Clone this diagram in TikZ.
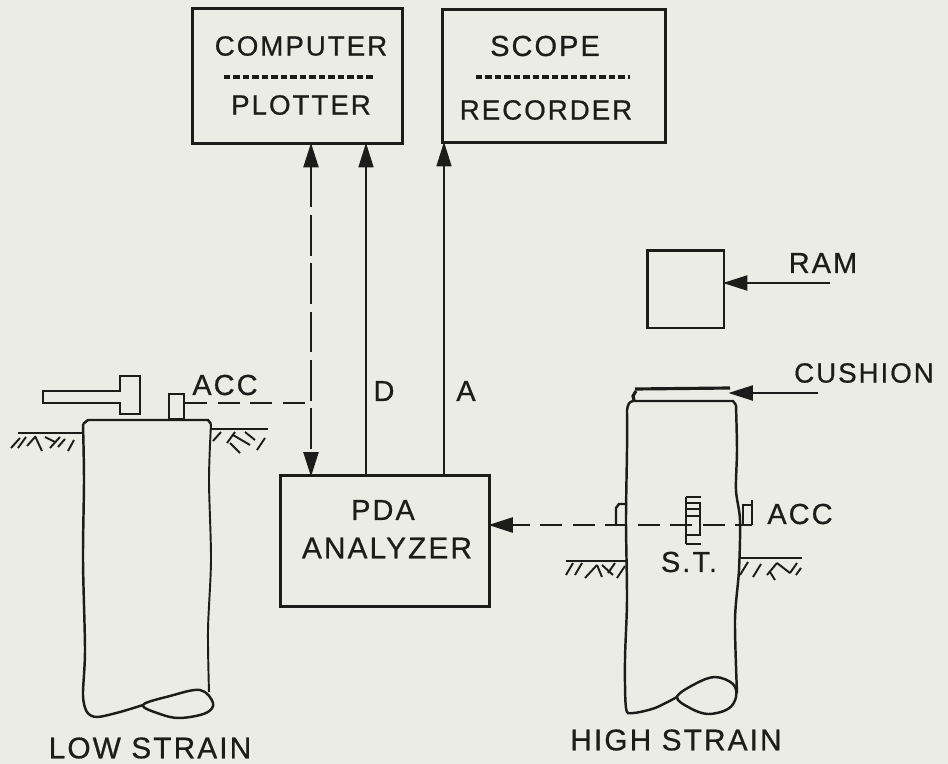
\documentclass[tikz,border=0pt]{standalone}
\usepackage{fontspec}
\setmainfont[LetterSpace=7,FakeBold=0.6]{Liberation Sans}
\usetikzlibrary{calc, positioning}
\usetikzlibrary{arrows.meta}

\definecolor{paper}{HTML}{ECECE6}
\definecolor{ink}{HTML}{1C1C1A}

\tikzset{
  line/.style={ink, line width=1.4pt},
  thinline/.style={ink, line width=1.1pt},
  boxnode/.style={draw=ink, line width=1.7pt, inner sep=0pt},
  label/.style={ink, font=\fontsize{16.5}{17}\selectfont, inner sep=0pt},
  smalllabel/.style={label, font=\fontsize{15.8}{17}\selectfont},
  biglabel/.style={label, font=\fontsize{17}{18}\selectfont},
  dashline/.style={line, line width=1.6pt, dash pattern=on 12.5pt off 6pt},
  sep/.style={ink, line width=2pt, dash pattern=on 3.6pt off 1.8pt},
  head/.style={-{Triangle[length=14pt, width=8.5pt]}, shorten >=-1.5pt},
  twohead/.style={{Triangle[length=14pt, width=8.5pt]}-{Triangle[length=14pt, width=8.5pt]}, shorten >=-1.5pt, shorten <=-1.5pt},
}

\begin{document}
\begin{tikzpicture}[x=0.02cm, y=-0.02cm]
\useasboundingbox[fill=paper] (0,0) rectangle (948,764);

\def\xDash{311}
\def\xD{366}
\def\xA{444}

% boxes
\node[boxnode, minimum width=4.22cm, minimum height=2.72cm] (computer) at (297.5,76) {};
\node[boxnode, minimum width=4.48cm, minimum height=2.68cm] (scope) at (554,76) {};
\node[boxnode, minimum width=4.18cm, minimum height=2.62cm] (pda) at (385,541) {};
\node[boxnode, minimum width=1.54cm, minimum height=1.56cm] (ram) at (685.5,289) {};

% box texts
\node[smalllabel] (computerText) at (301,46) {COMPUTER};
\node[smalllabel] (plotterText) at (301,105) {PLOTTER};
\node[label] (scopeText) at (545,46) {SCOPE};
\node[smalllabel] (recorderText) at (546,110) {RECORDER};
\node[label] (pdaText) at (383,510) {PDA};
\node[biglabel] (analyzerText) at (387,548) {ANALYZER};
\draw[sep] (224,77) -- (375,77);
\draw[sep] (476,77) -- (630,77);

% connectors between boxes
\coordinate (dashX) at (\xDash,0);
\coordinate (dX) at (\xD,0);
\coordinate (aX) at (\xA,0);
\draw[line, twohead, dash pattern=on 23pt off 4.5pt] (computer.south -| dashX) -- (pda.north -| dashX);
\draw[thinline, head] (pda.north -| dX) -- (computer.south -| dX);
\draw[thinline, head] (pda.north -| aX) -- (scope.south -| aX);
\node[label] (dText) at (384,391) {D};
\node[label] (aText) at (466,391) {A};

% low strain pile
\draw[line] plot[smooth, tension=0.5] coordinates {(143,705) (120,712) (97,717) (87,712) (83,695) (85,650) (83,560) (84,480) (83,424)};
\draw[line] (83,424) -- (88,420) -- (208,420) -- (211,424);
\draw[thinline] plot[smooth, tension=0.5] coordinates {(211,424) (209,480) (211,560) (208,630) (209,692)};
\draw[line] plot[smooth cycle, tension=0.6] coordinates {(143,705) (170,696) (200,690) (213,703) (206,713) (180,718) (160,714)};
\draw[line] (18,433) -- (83,433);
\draw[line] (211,429) -- (268,429);
\foreach \x/\y/\dx/\dy in {11/448/9/-10, 18/448/8/-11, 27/446/8/-9, 35/436/7/15, 45/437/10/5, 50/448/10/-11, 58/447/7/-8, 68/451/6/-11,
    213/441/8/-9, 227/443/8/-11, 230/443/10/10, 233/435/17/10, 245/432/10/8, 257/450/8/-12}
  \draw[thinline] (\x,\y) -- ++(\dx,\dy);

% hammer and sensor
\draw[line] (120,391) -- (43,391) -- (43,403) -- (120,403) -- (120,414) -- (140,414) -- (140,376) -- (120,376) -- cycle;
\node[draw=ink, line width=1.4pt, minimum width=0.3cm, minimum height=0.5cm, inner sep=0pt] (accLow) at (176.5,406.5) {};
\node[label] (accLowText) at (225,385) {ACC};
\coordinate (accLowEnd) at (accLow.east |- 0,403);
\draw[dashline] (accLowEnd) -- (accLowEnd -| dashX);

% high strain pile
\draw[line] (627,410) .. controls (628,404) and (629,402) .. (633,401) -- (733,401) -- (736,405);
\draw[line, line width=1.8pt] (636,391) -- (633,396) -- (634,400);
\draw[line, line width=1.8pt] (635,389) -- (730,388);
\draw[line] plot[smooth, tension=0.5] coordinates {(677,697) (655,708) (633,713) (626,708) (625,660) (627,600) (626,520) (627,450) (627,410)};
\draw[line] plot[smooth, tension=0.5] coordinates {(736,405) (737,450) (736,490) (740,520) (739,570) (735,620) (737,693)};
\draw[line] plot[smooth cycle, tension=0.6] coordinates {(677,697) (695,684) (715,677) (733,684) (736,697) (728,709) (708,714) (690,708)};
\draw[line] (566,561) -- (627,561);
\draw[line] (740,558) -- (802,558);
\foreach \x/\y/\dx/\dy in {566/575/7/-12, 575/575/7/-12, 585/578/12/-13, 597/565/5/12, 602/565/11/10, 608/573/7/-10, 617/578/8/-12,
    740/575/8/-13, 753/577/8/-13, 767/575/10/-12, 770/572/5/8, 777/563/13/10, 790/573/7/-10, 796/575/5/-7}
  \draw[thinline] (\x,\y) -- ++(\dx,\dy);

% sensors on the high strain pile
\draw[line] (616,525) -- (616,508) -- (619,504) -- (627,504);
\draw[line] (742,505) -- (752,505);
\draw[line] (752,500) -- (752,525);
\draw[line] (743,505) -- (743,525);
\draw[line] (686,503) rectangle (700,535);
\draw[line] (686,516) -- (700,516);
\foreach \y in {497,509,544}
  \draw[line] (686,\y) -- (701,\y);
\draw[line] (686,497) -- (686,503);
\draw[line] (686,535) -- (686,544);
\coordinate (accHighEnd) at (752,525);
\draw[dashline, head, dash phase=3pt] (accHighEnd) -- (accHighEnd -| pda.east);
\node[label] (accHighText) at (800,514) {ACC};
\node[label] (stText) at (689,562) {S.T.};

% ram and cushion
\coordinate (ramEnd) at (830,283);
\draw[line, head] (ramEnd) -- (ramEnd -| ram.east);
\node[label] (ramText) at (823,263) {RAM};
\coordinate (cushionEnd) at (818,393);
\coordinate (cushionTip) at (731,393);
\draw[line, head] (cushionEnd) -- (cushionTip);
\node[smalllabel] (cushionText) at (864,373) {CUSHION};

% captions
\node[biglabel] (lowText) at (150,748) {LOW STRAIN};
\node[biglabel] (highText) at (676,740) {HIGH STRAIN};
\end{tikzpicture}
\end{document}
